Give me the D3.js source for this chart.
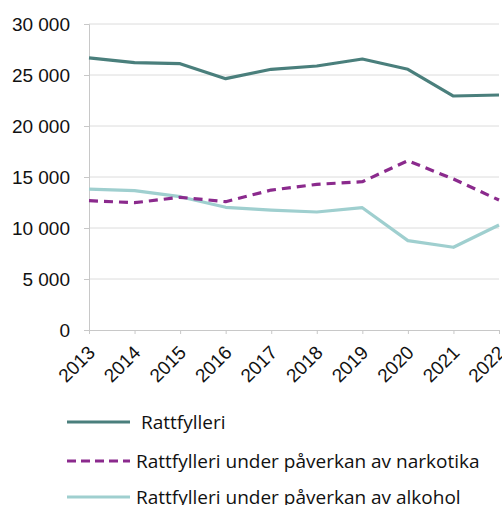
<!DOCTYPE html>
<html>
<head>
<meta charset="utf-8">
<script src="https://cdn.jsdelivr.net/npm/d3@7"></script>
<style>
  html, body { margin: 0; padding: 0; background: #fff; }
  svg { display: block; font-family: "Open Sans", "DejaVu Sans", sans-serif; }
</style>
</head>
<body>
<svg id="chart" width="502" height="505"></svg>
<script>
// Antal rattfylleribrott per år
const years = ["2013", "2014", "2015", "2016", "2017", "2018", "2019", "2020", "2021", "2022"];
const rattfylleri = [26670, 26210, 26110, 24640, 25560, 25880, 26570, 25560, 22940, 23040];
const narkotika   = [12680, 12480, 13010, 12580, 13720, 14280, 14540, 16600, 14800, 12740];
const alkohol     = [13820, 13660, 13070, 12030, 11760, 11570, 11990, 8760, 8110, 10300];
const yTicks = [0, 5000, 10000, 15000, 20000, 25000, 30000];

const seriesList = [
  { name: "Rattfylleri", values: rattfylleri, color: "#4a7f7c", dash: null },
  { name: "Rattfylleri under påverkan av narkotika", values: narkotika, color: "#8b2a8d", dash: "9,6" },
  { name: "Rattfylleri under påverkan av alkohol", values: alkohol, color: "#9fcfcf", dash: null }
];

const svg = d3.select("#chart");
const plot = { left: 89, right: 499, top: 24, bottom: 330 };

const x = d3.scalePoint().domain(years).range([plot.left, plot.right]);
const y = d3.scaleLinear().domain([0, 30000]).range([plot.bottom, plot.top]);

const fmt = v => d3.format(",")(v).replace(/,/g, " ");

// horisontella stödlinjer
svg.append("g")
  .selectAll("line")
  .data(yTicks.filter(v => v > 0))
  .join("line")
  .attr("x1", plot.left).attr("x2", plot.right)
  .attr("y1", d => y(d)).attr("y2", d => y(d))
  .attr("stroke", "#dcdcdc").attr("stroke-width", 1);

// y-axel
const yAxis = svg.append("g")
  .attr("transform", `translate(${plot.left},0)`)
  .call(d3.axisLeft(y).tickValues(yTicks).tickFormat(fmt).tickSize(5).tickPadding(14));
yAxis.select(".domain").attr("stroke", "#c8c8c8");
yAxis.selectAll(".tick line").attr("stroke", "#c8c8c8");
yAxis.selectAll(".tick text").attr("font-size", 19).attr("fill", "#111");

// x-axel
const xAxis = svg.append("g")
  .attr("transform", `translate(0,${plot.bottom})`)
  .call(d3.axisBottom(x).tickSize(4).tickSizeOuter(0));
xAxis.select(".domain").attr("stroke", "#c8c8c8");
xAxis.selectAll(".tick line").attr("stroke", "#c8c8c8");
xAxis.selectAll(".tick text")
  .attr("font-size", 19).attr("fill", "#111")
  .attr("text-anchor", "end")
  .attr("dy", "0.35em")
  .attr("transform", "translate(2,19) rotate(-45)")
  .attr("x", 0).attr("y", 0);

// linjer
const line = d3.line().x((d, i) => x(years[i])).y(d => y(d));
const drawOrder = [2, 1, 0];
drawOrder.forEach(k => {
  const s = seriesList[k];
  svg.append("path")
    .datum(s.values)
    .attr("fill", "none")
    .attr("stroke", s.color)
    .attr("stroke-width", 3.2)
    .attr("stroke-linejoin", "round")
    .attr("stroke-dasharray", s.dash)
    .attr("d", line);
});

// förklaring
const legendY = [422, 461, 497];
const legendTextX = [141, 136, 136];
const legend = svg.append("g");
seriesList.forEach((s, i) => {
  legend.append("line")
    .attr("x1", 67).attr("x2", 130)
    .attr("y1", legendY[i]).attr("y2", legendY[i])
    .attr("stroke", s.color).attr("stroke-width", 3.2)
    .attr("stroke-dasharray", s.dash ? "9,5" : null);
  legend.append("text")
    .attr("x", legendTextX[i]).attr("y", legendY[i])
    .attr("dy", "0.35em")
    .attr("font-size", 19).attr("fill", "#111")
    .text(s.name);
});
</script>
</body>
</html>
